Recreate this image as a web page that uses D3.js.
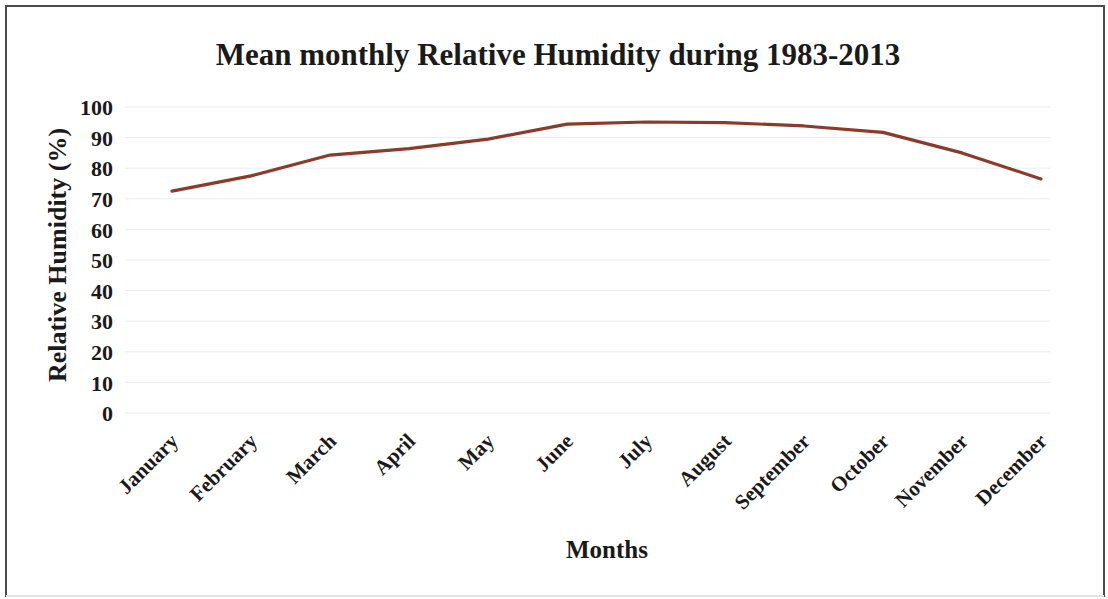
<!DOCTYPE html>
<html>
<head>
<meta charset="utf-8">
<script src="https://cdn.jsdelivr.net/npm/d3@7"></script>
<style>
  html, body { margin: 0; padding: 0; background: #fff; }
  svg text { font-family: "Liberation Serif", "Times New Roman", serif; font-weight: bold; fill: #1a1a1a; }
</style>
</head>
<body>
<svg id="chart" width="1108" height="599"></svg>
<script>
// Mean monthly relative humidity (%), 1983-2013
const months = ["January", "February", "March", "April", "May", "June",
                "July", "August", "September", "October", "November", "December"];
const humidity = [72.5, 77.5, 84.3, 86.4, 89.5, 94.4, 95.1, 94.9, 93.8, 91.7, 85, 76.5];
const yTicks = [0, 10, 20, 30, 40, 50, 60, 70, 80, 90, 100];

const titleText = "Mean monthly Relative Humidity during 1983-2013";
const xTitle = "Months";
const yTitle = "Relative Humidity  (%)";

const svg = d3.select("#chart");
const W = 1108, H = 599;

// frame around the chart
svg.append("rect").attr("x", 0).attr("y", 0).attr("width", W).attr("height", H).attr("fill", "#fff");
svg.append("path")
  .attr("d", `M6,597 L6,6 L1104,6 L1104,597`)
  .attr("fill", "none").attr("stroke", "#4a4a50").attr("stroke-width", 2);
svg.append("line").attr("x1", 6).attr("x2", 1104).attr("y1", 596).attr("y2", 596)
  .attr("stroke", "#e4e4e6").attr("stroke-width", 2);

const x = d3.scalePoint().domain(months).range([172, 1041]);
const y = d3.scaleLinear().domain([0, 100]).range([413, 107]);

// gridlines
svg.append("g")
  .selectAll("line").data(yTicks).join("line")
  .attr("x1", 125).attr("x2", 1050)
  .attr("y1", d => y(d)).attr("y2", d => y(d))
  .attr("stroke", "#ececf0").attr("stroke-width", 1);

// y axis tick labels
const yAxis = d3.axisLeft(y).tickValues(yTicks).tickSize(0).tickPadding(0);
const gy = svg.append("g").attr("transform", "translate(113,0)").call(yAxis);
gy.select(".domain").remove();
gy.selectAll("text").attr("font-size", 22).attr("dy", "0.35em")
  .style("font-family", "'Liberation Serif', serif").style("font-weight", "bold").attr("fill", "#1a1a1a");

// x axis month labels, rotated
const xAxis = d3.axisBottom(x).tickSize(0).tickPadding(0);
const gx = svg.append("g").call(xAxis);
gx.select(".domain").remove();
gx.selectAll(".tick").attr("transform", d => `translate(${x(d) - 3},432)`);
gx.selectAll("text")
  .attr("font-size", 21).attr("y", 0).attr("dy", "0.7em")
  .attr("text-anchor", "end")
  .attr("transform", "rotate(-45)")
  .style("font-family", "'Liberation Serif', serif").style("font-weight", "bold").attr("fill", "#1a1a1a");

// humidity line
const line = d3.line().x((d, i) => x(months[i])).y(d => y(d));
svg.append("path").datum(humidity)
  .attr("d", line)
  .attr("fill", "none").attr("stroke", "#8a3b2a").attr("stroke-width", 3.2)
  .attr("stroke-linejoin", "round").attr("stroke-linecap", "round");

// titles
svg.append("text").attr("x", 558).attr("y", 65).attr("text-anchor", "middle")
  .attr("font-size", 31).text(titleText);
svg.append("text").attr("x", 607).attr("y", 558).attr("text-anchor", "middle")
  .attr("font-size", 25).text(xTitle);
svg.append("text").attr("transform", "translate(66,255) rotate(-90)").attr("text-anchor", "middle")
  .attr("font-size", 26).text(yTitle);
</script>
</body>
</html>
